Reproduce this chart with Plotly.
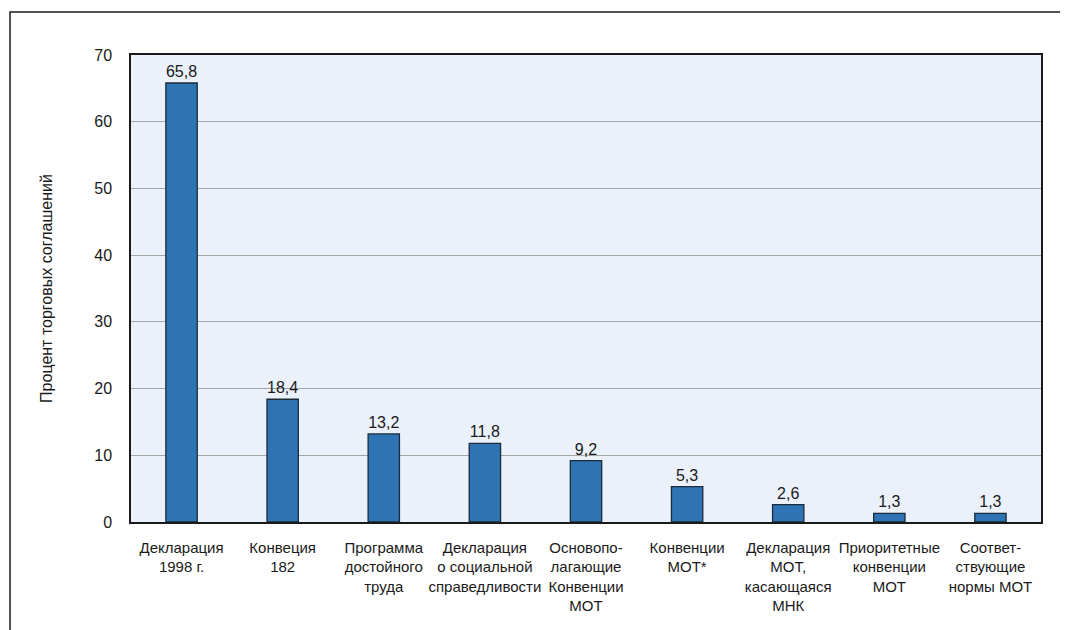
import plotly.graph_objects as go

categories = [
    "Декларация<br>1998 г.",
    "Конвеция<br>182",
    "Программа<br>достойного<br>труда",
    "Декларация<br>о социальной<br>справедливости",
    "Основопо-<br>лагающие<br>Конвенции<br>МОТ",
    "Конвенции<br>МОТ*",
    "Декларация<br>МОТ,<br>касающаяся<br>МНК",
    "Приоритетные<br>конвенции<br>МОТ",
    "Соответ-<br>ствующие<br>нормы МОТ",
]
values = [65.8, 18.4, 13.2, 11.8, 9.2, 5.3, 2.6, 1.3, 1.3]
y_ticks = [0, 10, 20, 30, 40, 50, 60, 70]
y_title = "Процент торговых соглашений"

labels = [f"{v:.1f}".replace(".", ",") for v in values]

FONT = "Liberation Sans, Arial, sans-serif"

# page body has an 8px margin, so figure coordinates are shifted by 8px
OFF = 8
W, H = 1068, 630
ML, MT = 131 - OFF, 55 - OFF
pw, ph = 910, 467
MR = W - ML - pw
MB = H - MT - ph

def px(x):
    return (x - OFF - ML) / pw

def py(y):
    return (MT + ph - (y - OFF)) / ph

fig = go.Figure(
    go.Bar(
        x=categories,
        y=values,
        text=labels,
        textposition="outside",
        textfont=dict(family=FONT, size=16, color="#1a1a1a"),
        cliponaxis=False,
        width=0.31,
        marker=dict(color="#2E74B5", line=dict(color="#1C2B3A", width=1.3)),
    )
)

fig.update_layout(
    width=W,
    height=H,
    margin=dict(l=ML, r=MR, t=MT, b=MB, autoexpand=False),
    paper_bgcolor="white",
    plot_bgcolor="#EAF1FA",
    font=dict(family=FONT, size=16, color="#1a1a1a"),
    showlegend=False,
)

fig.update_xaxes(
    showline=True,
    linecolor="#1a1a1a",
    linewidth=1.5,
    mirror=True,
    ticks="",
    tickangle=0,
    ticklabelstandoff=11,
    tickfont=dict(family=FONT, size=15),
    showgrid=False,
)

fig.update_yaxes(
    range=[0, 70],
    tickvals=y_ticks,
    showline=True,
    linecolor="#1a1a1a",
    linewidth=1.5,
    mirror=True,
    gridcolor="#A6A6A6",
    gridwidth=1,
    ticks="",
    ticklabelstandoff=14,
    tickfont=dict(family=FONT, size=16),
    zeroline=False,
    title=dict(text=y_title, font=dict(family=FONT, size=16), standoff=38),
)

# outer frame (extends past the right and bottom edges)
fig.add_shape(
    type="rect", xref="paper", yref="paper",
    x0=px(10), y0=py(660), x1=px(1090), y1=py(12),
    line=dict(color="#1a1a1a", width=1.5), fillcolor="rgba(0,0,0,0)",
    layer="below",
)

fig.write_html("out.html")
